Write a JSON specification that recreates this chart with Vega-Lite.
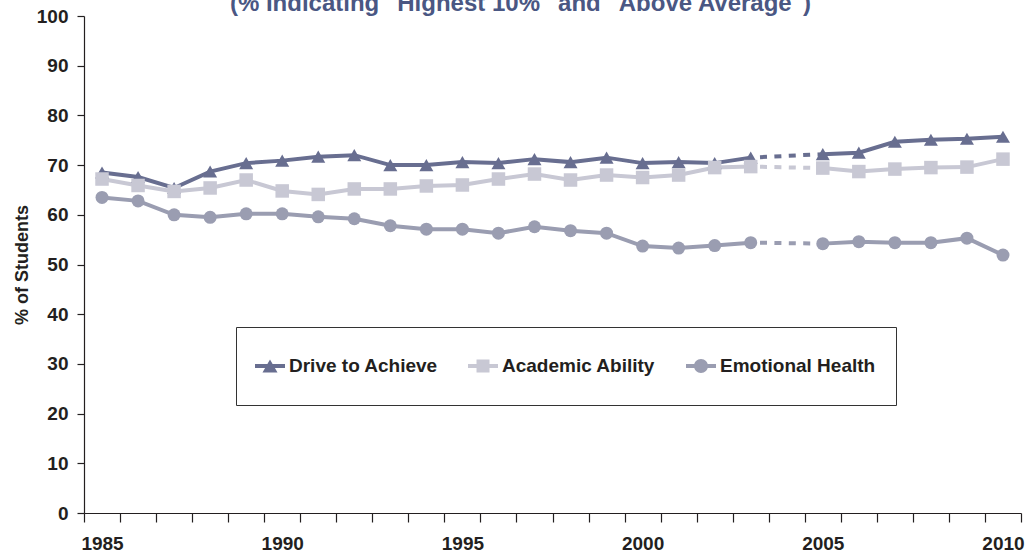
{
  "$schema": "https://vega.github.io/schema/vega-lite/v6.json",
  "autosize": {"type": "none"},
  "padding": {"left": 84, "top": 16, "right": 15, "bottom": 39},
  "width": 937,
  "height": 497,
  "background": "white",
  "title": {
    "text": "(% Indicating \"Highest 10%\" and \"Above Average\")",
    "font": "Liberation Sans",
    "fontSize": 24,
    "fontWeight": "bold",
    "color": "#4a5783",
    "anchor": "middle",
    "dx": -32,
    "baseline": "alphabetic",
    "offset": -28
  },
  "config": {
    "view": {"stroke": null},
    "axis": {
      "labelFont": "Liberation Sans",
      "labelFontSize": 19,
      "labelFontWeight": "bold",
      "labelColor": "#231f20",
      "domainColor": "#231f20",
      "tickColor": "#231f20",
      "domainWidth": 1.2,
      "tickWidth": 1.2,
      "grid": false,
      "titleFont": "Liberation Sans",
      "titleFontWeight": "bold",
      "titleColor": "#231f20"
    }
  },
  "data": {
    "values": [
      {"year": 1985, "series": "Drive to Achieve", "value": 68.5},
      {"year": 1986, "series": "Drive to Achieve", "value": 67.6},
      {"year": 1987, "series": "Drive to Achieve", "value": 65.4},
      {"year": 1988, "series": "Drive to Achieve", "value": 68.7},
      {"year": 1989, "series": "Drive to Achieve", "value": 70.4},
      {"year": 1990, "series": "Drive to Achieve", "value": 70.9},
      {"year": 1991, "series": "Drive to Achieve", "value": 71.7},
      {"year": 1992, "series": "Drive to Achieve", "value": 72.0},
      {"year": 1993, "series": "Drive to Achieve", "value": 70.0},
      {"year": 1994, "series": "Drive to Achieve", "value": 70.0},
      {"year": 1995, "series": "Drive to Achieve", "value": 70.6},
      {"year": 1996, "series": "Drive to Achieve", "value": 70.4},
      {"year": 1997, "series": "Drive to Achieve", "value": 71.2},
      {"year": 1998, "series": "Drive to Achieve", "value": 70.6},
      {"year": 1999, "series": "Drive to Achieve", "value": 71.5},
      {"year": 2000, "series": "Drive to Achieve", "value": 70.4},
      {"year": 2001, "series": "Drive to Achieve", "value": 70.6},
      {"year": 2002, "series": "Drive to Achieve", "value": 70.4},
      {"year": 2003, "series": "Drive to Achieve", "value": 71.5},
      {"year": 2005, "series": "Drive to Achieve", "value": 72.2},
      {"year": 2006, "series": "Drive to Achieve", "value": 72.5},
      {"year": 2007, "series": "Drive to Achieve", "value": 74.7},
      {"year": 2008, "series": "Drive to Achieve", "value": 75.1},
      {"year": 2009, "series": "Drive to Achieve", "value": 75.3},
      {"year": 2010, "series": "Drive to Achieve", "value": 75.7},
      {"year": 1985, "series": "Academic Ability", "value": 67.2},
      {"year": 1986, "series": "Academic Ability", "value": 65.9},
      {"year": 1987, "series": "Academic Ability", "value": 64.7},
      {"year": 1988, "series": "Academic Ability", "value": 65.4},
      {"year": 1989, "series": "Academic Ability", "value": 67.0},
      {"year": 1990, "series": "Academic Ability", "value": 64.8},
      {"year": 1991, "series": "Academic Ability", "value": 64.1},
      {"year": 1992, "series": "Academic Ability", "value": 65.2},
      {"year": 1993, "series": "Academic Ability", "value": 65.2},
      {"year": 1994, "series": "Academic Ability", "value": 65.8},
      {"year": 1995, "series": "Academic Ability", "value": 66.0},
      {"year": 1996, "series": "Academic Ability", "value": 67.2},
      {"year": 1997, "series": "Academic Ability", "value": 68.2},
      {"year": 1998, "series": "Academic Ability", "value": 67.0},
      {"year": 1999, "series": "Academic Ability", "value": 68.0},
      {"year": 2000, "series": "Academic Ability", "value": 67.5},
      {"year": 2001, "series": "Academic Ability", "value": 68.0},
      {"year": 2002, "series": "Academic Ability", "value": 69.5},
      {"year": 2003, "series": "Academic Ability", "value": 69.7},
      {"year": 2005, "series": "Academic Ability", "value": 69.4},
      {"year": 2006, "series": "Academic Ability", "value": 68.7},
      {"year": 2007, "series": "Academic Ability", "value": 69.2},
      {"year": 2008, "series": "Academic Ability", "value": 69.5},
      {"year": 2009, "series": "Academic Ability", "value": 69.6},
      {"year": 2010, "series": "Academic Ability", "value": 71.2},
      {"year": 1985, "series": "Emotional Health", "value": 63.5},
      {"year": 1986, "series": "Emotional Health", "value": 62.8},
      {"year": 1987, "series": "Emotional Health", "value": 60.0},
      {"year": 1988, "series": "Emotional Health", "value": 59.5},
      {"year": 1989, "series": "Emotional Health", "value": 60.2},
      {"year": 1990, "series": "Emotional Health", "value": 60.2},
      {"year": 1991, "series": "Emotional Health", "value": 59.6},
      {"year": 1992, "series": "Emotional Health", "value": 59.2},
      {"year": 1993, "series": "Emotional Health", "value": 57.8},
      {"year": 1994, "series": "Emotional Health", "value": 57.1},
      {"year": 1995, "series": "Emotional Health", "value": 57.1},
      {"year": 1996, "series": "Emotional Health", "value": 56.3},
      {"year": 1997, "series": "Emotional Health", "value": 57.6},
      {"year": 1998, "series": "Emotional Health", "value": 56.8},
      {"year": 1999, "series": "Emotional Health", "value": 56.3},
      {"year": 2000, "series": "Emotional Health", "value": 53.7},
      {"year": 2001, "series": "Emotional Health", "value": 53.3},
      {"year": 2002, "series": "Emotional Health", "value": 53.8},
      {"year": 2003, "series": "Emotional Health", "value": 54.4},
      {"year": 2005, "series": "Emotional Health", "value": 54.2},
      {"year": 2006, "series": "Emotional Health", "value": 54.6},
      {"year": 2007, "series": "Emotional Health", "value": 54.4},
      {"year": 2008, "series": "Emotional Health", "value": 54.4},
      {"year": 2009, "series": "Emotional Health", "value": 55.3},
      {"year": 2010, "series": "Emotional Health", "value": 51.9}
    ]
  },
  "encoding": {
    "x": {
      "field": "year",
      "type": "ordinal",
      "scale": {
        "type": "band",
        "domain": [1985,1986,1987,1988,1989,1990,1991,1992,1993,1994,1995,1996,1997,1998,1999,2000,2001,2002,2003,2004,2005,2006,2007,2008,2009,2010],
        "paddingInner": 0,
        "paddingOuter": 0
      },
      "axis": {
        "title": null,
        "tickBand": "extent",
        "labelAngle": 0,
        "labelOverlap": false,
        "labelExpr": "datum.value % 5 == 0 ? datum.label : ''",
        "tickSize": 9,
        "labelPadding": 12
      }
    },
    "y": {
      "field": "value",
      "type": "quantitative",
      "scale": {"domain": [0, 100], "nice": false},
      "axis": {
        "title": "% of Students",
        "values": [0,10,20,30,40,50,60,70,80,90,100],
        "tickSize": 7,
        "labelPadding": 9,
        "titleFontSize": 18,
        "titleAngle": -90,
        "titleX": -62,
        "titleY": 248.5,
        "titleAlign": "center",
        "titleBaseline": "middle"
      }
    },
    "color": {
      "field": "series",
      "type": "nominal",
      "scale": {
        "domain": ["Drive to Achieve", "Academic Ability", "Emotional Health"],
        "range": ["#686e90", "#c8c8d4", "#9a9db1"]
      },
      "legend": null
    }
  },
  "layer": [
    {
      "transform": [{"filter": "datum.year <= 2003"}],
      "mark": {"type": "line", "strokeWidth": 4}
    },
    {
      "transform": [{"filter": "datum.year >= 2005"}],
      "mark": {"type": "line", "strokeWidth": 4}
    },
    {
      "transform": [{"filter": "datum.year == 2003 || datum.year == 2005"}],
      "mark": {"type": "line", "strokeWidth": 4, "strokeDash": [7, 7.4], "strokeDashOffset": 5.1}
    },
    {
      "mark": {"type": "point", "filled": true, "opacity": 1, "strokeWidth": 0},
      "encoding": {
        "shape": {
          "field": "series",
          "type": "nominal",
          "scale": {
            "domain": ["Drive to Achieve", "Academic Ability", "Emotional Health"],
            "range": ["triangle-up", "square", "circle"]
          },
          "legend": null
        },
        "size": {
          "field": "series",
          "type": "nominal",
          "scale": {
            "domain": ["Drive to Achieve", "Academic Ability", "Emotional Health"],
            "range": [196, 169, 196]
          },
          "legend": null
        }
      }
    },
    {
      "transform": [{"filter": "datum.year < 0"}],
      "mark": {"type": "point", "filled": true, "opacity": 1, "strokeWidth": 0},
      "encoding": {
        "color": {
          "field": "series",
          "type": "nominal",
          "scale": {
            "domain": ["Drive to Achieve", "Academic Ability", "Emotional Health"],
            "range": ["#686e90", "#c8c8d4", "#9a9db1"]
          },
          "legend": {
            "orient": "none",
            "legendX": 152,
            "legendY": 311,
            "direction": "horizontal",
            "title": null,
            "padding": 20,
            "strokeColor": "#333333",
            "fillColor": "#ffffff",
            "symbolSize": 1444,
            "symbolStrokeWidth": 0,
            "symbolOpacity": 1,
            "labelOffset": -5,
            "columnPadding": 30,
            "labelFont": "Liberation Sans",
            "labelFontSize": 19,
            "labelFontWeight": "bold",
            "labelColor": "#231f20",
            "labelLimit": 0
          }
        },
        "shape": {
          "field": "series",
          "type": "nominal",
          "scale": {
            "domain": ["Drive to Achieve", "Academic Ability", "Emotional Health"],
            "range": [
              "M-0.263,-1Z M-0.263,1Z M-1.052,-0.105H0.526V0.105H-1.052Z M-0.263,-0.342L0.132,0.342L-0.658,0.342Z",
              "M-0.263,-1Z M-0.263,1Z M-1.052,-0.105H0.526V0.105H-1.052Z M-0.605,-0.342H0.079V0.342H-0.605Z",
              "M-0.263,-1Z M-0.263,1Z M-1.052,-0.105H0.526V0.105H-1.052Z M-0.631,0A0.368,0.368 0 1,1 0.105,0A0.368,0.368 0 1,1 -0.631,0Z"
            ]
          },
          "legend": {
            "orient": "none",
            "legendX": 152,
            "legendY": 311,
            "direction": "horizontal",
            "title": null,
            "padding": 20,
            "strokeColor": "#333333",
            "fillColor": "#ffffff",
            "symbolSize": 1444,
            "symbolStrokeWidth": 0,
            "symbolOpacity": 1,
            "labelOffset": -5,
            "columnPadding": 30,
            "labelFont": "Liberation Sans",
            "labelFontSize": 19,
            "labelFontWeight": "bold",
            "labelColor": "#231f20",
            "labelLimit": 0
          }
        }
      }
    }
  ],
  "resolve": {"scale": {"color": "independent", "shape": "independent"}}
}
